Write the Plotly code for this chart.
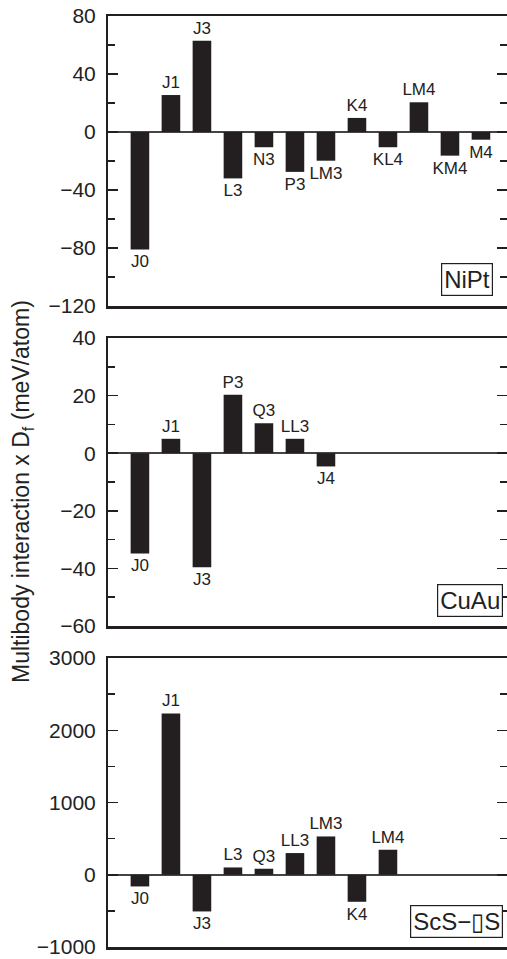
import plotly.graph_objects as go

# ---- data ----
nipt_labels = ["J0", "J1", "J3", "L3", "N3", "P3", "LM3", "K4", "KL4", "LM4", "KM4", "M4"]
nipt_values = [-81, 25.5, 63, -32, -10.5, -27.5, -19.8, 9.7, -10.5, 20.5, -16.3, -5.3]

cuau_labels = ["J0", "J1", "J3", "P3", "Q3", "LL3", "J4"]
cuau_values = [-34.8, 5, -39.6, 20.3, 10.4, 5, -4.6]

scs_labels = ["J0", "J1", "J3", "L3", "Q3", "LL3", "LM3", "K4", "LM4"]
scs_values = [-162, 2232, -508, 101, 83, 300, 530, -374, 346]

panel_names = ["NiPt", "CuAu", "ScS\u2212\u25AFS"]
y_ranges = [[-120, 80], [-60, 40], [-1000, 3000]]
y_dticks = [40, 20, 1000]

W, H = 507, 959
ML = 108
# panel pixel extents (top, bottom)
panels_px = [(16, 306), (338, 626), (658, 947)]

FONT = "Liberation Sans, Arial, Helvetica, sans-serif"
INK = "#231f20"

fig = go.Figure()
datasets = [(nipt_labels, nipt_values), (cuau_labels, cuau_values), (scs_labels, scs_values)]

for i, (labs, vals) in enumerate(datasets):
    sfx = "" if i == 0 else str(i + 1)
    fig.add_trace(go.Bar(
        x=list(range(len(labs))), y=vals, text=labs,
        textposition="outside", cliponaxis=False, constraintext="none",
        textfont=dict(size=17, color="#222", family=FONT),
        marker=dict(color=INK, line=dict(width=0)),
        width=0.6, xaxis="x" + sfx, yaxis="y" + sfx, showlegend=False,
        hoverinfo="skip",
    ))
    top, bot = panels_px[i]
    dom = [1 - bot / H, 1 - top / H]
    xa = dict(
        domain=[0, 1], range=[-1.03, 11.84], showticklabels=False, ticks="",
        showgrid=False, zeroline=False, showline=True, mirror=True,
        linecolor=INK, linewidth=2.5, anchor="y" + sfx,
    )
    ya = dict(
        domain=dom, range=y_ranges[i], dtick=y_dticks[i], tick0=0,
        ticks="inside", ticklen=10, tickwidth=1.5, tickcolor=INK,
        minor=dict(ticks="inside", ticklen=7, tickwidth=1.5, tickcolor=INK,
                   dtick=y_dticks[i] / 2, showgrid=False),
        showline=True, mirror="ticks", linecolor=INK, linewidth=2,
        showgrid=False, zeroline=True, zerolinecolor="#444", zerolinewidth=1.5,
        tickfont=dict(size=21, color="#222", family=FONT),
        ticklabelstandoff=6, anchor="x" + sfx, automargin=False,
    )
    fig.layout["xaxis" + sfx] = xa
    fig.layout["yaxis" + sfx] = ya

# legend-style boxed panel names
box_pos = [(0.965, 0.034), (0.99, 0.031), (0.99, 0.031)]
for i, name in enumerate(panel_names):
    sfx = "" if i == 0 else str(i + 1)
    bx, by = box_pos[i]
    fig.add_annotation(
        text=name, xref="x" + sfx + " domain", yref="y" + sfx + " domain",
        x=bx, y=by, xanchor="right", yanchor="bottom", showarrow=False,
        font=dict(size=24, color="#222", family=FONT),
        bordercolor=INK, borderwidth=1.2, borderpad=2, bgcolor="white",
    )

# shared y title
fig.add_annotation(
    text="Multibody interaction x D<sub>f</sub> (meV/atom)",
    xref="paper", yref="paper", x=0, y=1 - 492 / H, xshift=-86,
    xanchor="center", yanchor="middle", textangle=-90, showarrow=False,
    font=dict(size=23, color="#222", family=FONT),
)

fig.update_layout(
    width=W, height=H, margin=dict(l=ML, r=0, t=0, b=0, autoexpand=False),
    paper_bgcolor="white", plot_bgcolor="white", bargap=0.4,
    font=dict(family=FONT, color="#222"),
)

fig.write_html(
    "out.html",
    config={"displayModeBar": False, "staticPlot": True},
    post_script="document.body.style.margin='0px';document.body.style.overflow='hidden';",
)
